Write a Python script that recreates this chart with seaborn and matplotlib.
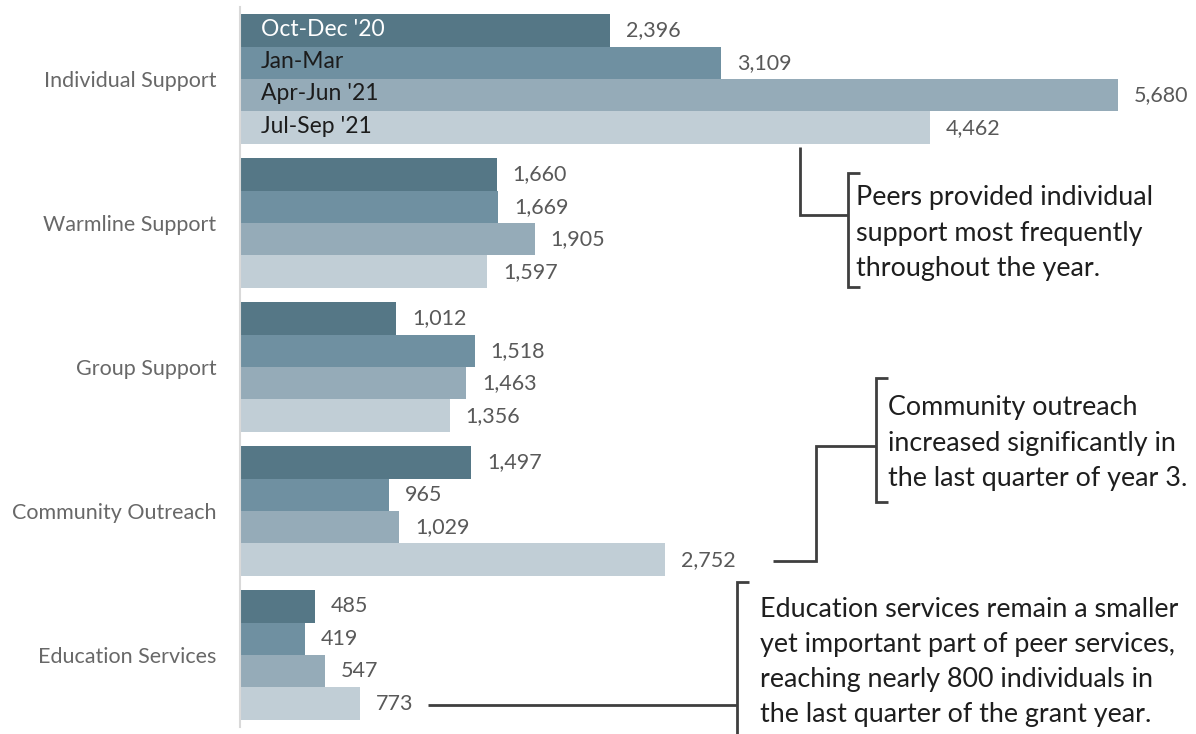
import matplotlib
matplotlib.use("Agg")
import matplotlib.pyplot as plt
from matplotlib.lines import Line2D
import seaborn as sns
import pandas as pd

# Peer service contacts by quarter
categories = ["Individual Support", "Warmline Support", "Group Support",
              "Community Outreach", "Education Services"]
quarters = ["Oct-Dec '20", "Jan-Mar", "Apr-Jun '21", "Jul-Sep '21"]
oct_dec_20 = [2396, 1660, 1012, 1497, 485]
jan_mar = [3109, 1669, 1518, 965, 419]
apr_jun_21 = [5680, 1905, 1463, 1029, 547]
jul_sep_21 = [4462, 1597, 1356, 2752, 773]

series = [oct_dec_20, jan_mar, apr_jun_21, jul_sep_21]
palette = ["#557786", "#6f90a1", "#95abb8", "#c1ced6"]
label_colors = ["#ffffff", "#1c1c1c", "#1c1c1c", "#1c1c1c"]

df = pd.DataFrame(
    [(cat, q, vals[i]) for q, vals in zip(quarters, series)
     for i, cat in enumerate(categories)],
    columns=["service", "quarter", "count"],
)

sns.set_theme(style="white")
plt.rcParams["font.family"] = ["Lato", "DejaVu Sans"]

W, H = 1196, 734
fig = plt.figure(figsize=(W / 100, H / 100), dpi=100)
ax = fig.add_axes([240 / W, 1 - 727 / H, 956 / W, 720 / H])

sns.barplot(data=df, y="service", x="count", hue="quarter",
            order=categories, hue_order=quarters, palette=palette,
            width=0.9, gap=0, saturation=1, orient="h", ax=ax,
            legend=False, linewidth=0)

ax.set_xlim(0, 956 / 0.1546)
ax.set_ylim(len(categories) - 0.5, -0.5)
ax.set_xlabel("")
ax.set_ylabel("")
ax.set_xticks([])
ax.tick_params(axis="y", length=0, pad=17, labelsize=15.5, labelcolor="#686868")
for s in ["top", "right", "bottom"]:
    ax.spines[s].set_visible(False)
ax.spines["left"].set_color("#d9d9d9")
ax.spines["left"].set_linewidth(1.5)

for cont in ax.containers:
    ax.bar_label(cont, fmt="{:,.0f}", padding=11.5, fontsize=15.5,
                 color="#595959")

# Series names written inside the first group of bars
for j, q in enumerate(quarters):
    bar = ax.containers[j][0]
    yc = bar.get_y() + bar.get_height() / 2
    ax.annotate(q, xy=(0, yc), xytext=(15, 1), textcoords="offset points",
                va="center", ha="left", fontsize=16.5, color=label_colors[j])


def px(x, y):
    return x / W, 1 - y / H


def polyline(points, lw=2.0, color="#3f3f3f"):
    xs, ys = zip(*[px(x, y) for x, y in points])
    fig.add_artist(Line2D(xs, ys, transform=fig.transFigure, color=color,
                          lw=lw, solid_joinstyle="miter",
                          solid_capstyle="butt"))


def bracket(x, y0, y1, tick=12):
    polyline([(x + tick, y0), (x, y0), (x, y1), (x + tick, y1)])


def note(x, y_first, lines, step=35.5, size=19.4):
    for k, line in enumerate(lines):
        fx, fy = px(x, y_first + k * step)
        fig.text(fx, fy, line, ha="left", va="baseline", fontsize=size,
                 color="#1e1e1e")


# Individual support callout
polyline([(800, 147), (800, 215), (848, 215)])
bracket(848, 173, 287)
note(856, 205, ["Peers provided individual", "support most frequently",
                "throughout the year."])

# Community outreach callout
polyline([(773, 561), (816, 561), (816, 446), (876, 446)])
bracket(876, 378, 502)
note(888, 415, ["Community outreach", "increased significantly in",
                "the last quarter of year 3."])

# Education services callout
polyline([(428, 705), (737, 705)])
bracket(737, 582, 745)
note(760, 617, ["Education services remain a smaller",
                "yet important part of peer services,",
                "reaching nearly 800 individuals in",
                "the last quarter of the grant year."], step=35)

fig.savefig("out.png", dpi=100)
